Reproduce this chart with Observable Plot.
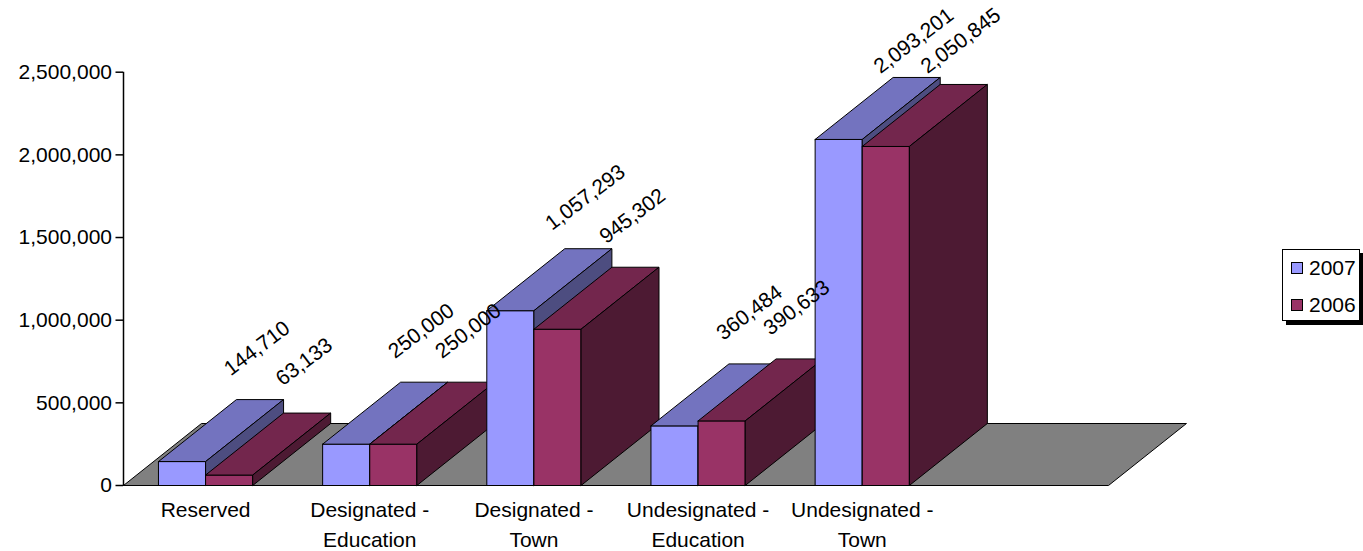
<!DOCTYPE html>
<html>
<head>
<meta charset="utf-8">
<script src="https://cdn.jsdelivr.net/npm/d3@7"></script>
<script src="https://cdn.jsdelivr.net/npm/@observablehq/plot@0.6"></script>
<style>
  html, body { margin: 0; padding: 0; background: #fff; overflow: hidden; }
  #chart { position: relative; width: 1363px; height: 551px; font-family: "Liberation Sans", Arial, sans-serif; }
  #chart svg { display: block; }
  .legend { position: absolute; left: 1282px; top: 249px; width: 76px; height: 70px; border: 1px solid #000; background: #fff; box-shadow: 4px 4px 0 #000; font-size: 21px; color: #000; }
  .legend-row { position: absolute; left: 8px; height: 22px; display: flex; align-items: center; line-height: 22px; }
  .swatch { width: 10px; height: 10px; border: 1px solid #000; margin-right: 6px; }
</style>
</head>
<body>
<div id="chart"></div>
<script>
// Land value by category, 2007 vs 2006
const categories = ["Reserved", "Designated -\nEducation", "Designated -\nTown", "Undesignated -\nEducation", "Undesignated -\nTown"];
const seriesNames = ["2007", "2006"];
const values2007 = [144710, 250000, 1057293, 360484, 2093201];
const values2006 = [63133, 250000, 945302, 390633, 2050845];
const yTicks = [0, 500000, 1000000, 1500000, 2000000, 2500000];

const seriesValues = [values2007, values2006];
const frontColors = ["#9999ff", "#993366"];
const topColors = ["#7373bf", "#73264d"];
const sideColors = ["#4d4d80", "#4d1a33"];

// Oblique 3D box geometry, expressed in scale units
const barWidth = 0.287;      // width of one bar, in category units
const depthX = 0.475;        // horizontal receding offset, in category units
const depthY = 375000;       // vertical receding offset, in value units
const slots = categories.length + 1; // floor runs one empty slot past the last category

// Value labels sit above the back edge of each bar's top, kept inside the chart area
const labelLift = 310000;
const labelCeiling = 2690000;

const fmt = d3.format(",");

// Each face is a closed polygon; rows share an id so Plot.line draws them as one path
const faces = [];
function face(id, color, pts) {
  pts.concat([pts[0]]).forEach(([x, y]) => faces.push({id, color, x, y}));
}
face("floor", "#808080", [[0, 0], [slots, 0], [slots + depthX, depthY], [depthX, depthY]]);

const labels = [];
categories.forEach((c, i) => {
  seriesValues.forEach((vals, s) => {
    const v = vals[i];
    const x0 = i + 0.5 - barWidth + s * barWidth;
    const x1 = x0 + barWidth;
    face(`${i}-${s}-front`, frontColors[s], [[x0, 0], [x1, 0], [x1, v], [x0, v]]);
    face(`${i}-${s}-top`, topColors[s], [[x0, v], [x1, v], [x1 + depthX, v + depthY], [x0 + depthX, v + depthY]]);
    face(`${i}-${s}-side`, sideColors[s], [[x1, 0], [x1 + depthX, depthY], [x1 + depthX, v + depthY], [x1, v]]);
    labels.push({
      x: x0 + barWidth / 2 + depthX,
      y: Math.min(v + depthY + labelLift, labelCeiling),
      text: fmt(v),
      series: seriesNames[s]
    });
  });
});

const chart = Plot.plot({
  width: 1363,
  height: 551,
  marginLeft: 123,
  marginRight: 255,
  marginTop: 71.7,
  marginBottom: 66,
  x: {type: "linear", domain: [0, slots], label: null},
  y: {domain: [0, 2500000], label: null},
  color: {type: "identity"},
  style: {fontFamily: "'Liberation Sans', Arial, sans-serif", fontSize: "21px", color: "#000", background: "#fff", overflow: "visible"},
  marks: [
    Plot.line(faces, {x: "x", y: "y", z: "id", fill: "color", stroke: "#000", strokeWidth: 1, strokeLinejoin: "miter", curve: "linear"}),
    Plot.ruleX([0], {y1: 0, y2: 2500000, stroke: "#000", strokeWidth: 1.5}),
    Plot.axisY({ticks: yTicks, tickFormat: fmt, tickSize: 7.5, tickPadding: 4, stroke: "#000", strokeWidth: 1.5, label: null}),
    Plot.axisX({
      ticks: categories.map((_, i) => i + 0.5),
      tickFormat: (t) => categories[Math.floor(t)],
      tickSize: 0,
      tickPadding: 9.5,
      lineHeight: 1.45,
      label: null
    }),
    Plot.text(labels, {x: "x", y: "y", text: "text", rotate: -37, dx: -3, fontSize: 21, fill: "#000"})
  ]
});

const root = document.getElementById("chart");
root.appendChild(chart);

// Legend
const legend = document.createElement("div");
legend.className = "legend";
seriesNames.forEach((name, s) => {
  const row = document.createElement("div");
  row.className = "legend-row";
  row.style.top = (s === 0 ? 7 : 44) + "px";
  const sw = document.createElement("span");
  sw.className = "swatch";
  sw.style.background = frontColors[s];
  const label = document.createElement("span");
  label.textContent = name;
  row.appendChild(sw);
  row.appendChild(label);
  legend.appendChild(row);
});
root.appendChild(legend);
</script>
</body>
</html>
